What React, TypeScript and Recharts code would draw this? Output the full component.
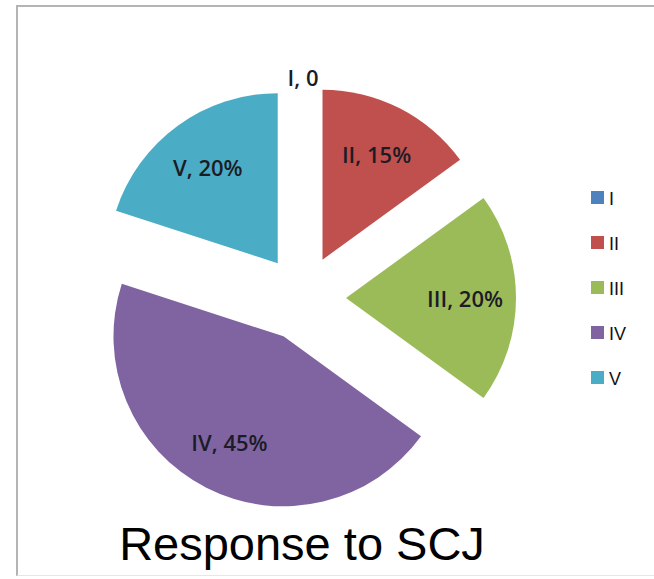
import React from 'react';
import { PieChart, Pie, Cell, Sector, Legend } from 'recharts';

const categories = ['I', 'II', 'III', 'IV', 'V'];
const shares = [0, 15, 20, 45, 20];
const colors = ['#4F81BD', '#C0504D', '#9BBB59', '#8064A2', '#4BACC6'];
const title = 'Response to SCJ';

const data = categories.map((name, i) => ({ name, value: shares[i] }));

const RAD = Math.PI / 180;
const explode = 43;

const ExplodedSlice = (props: any) => {
  const { cx, cy, midAngle } = props;
  const x = cx + explode * Math.cos(-midAngle * RAD);
  const y = cy + explode * Math.sin(-midAngle * RAD);
  return <Sector {...props} cx={x} cy={y} stroke='none' />;
};

const renderLabel = (props: any) => {
  const { cx, cy, midAngle, outerRadius, name, value } = props;
  const ox = cx + explode * Math.cos(-midAngle * RAD);
  const oy = cy + explode * Math.sin(-midAngle * RAD);
  const r = value === 0 ? outerRadius + 8 : outerRadius * 0.7;
  const x = ox + r * Math.cos(-midAngle * RAD);
  const y = oy + r * Math.sin(-midAngle * RAD);
  const text = value === 0 ? `${name}, ${value}` : `${name}, ${value}%`;
  return (
    <text
      x={x}
      y={y}
      textAnchor='middle'
      dominantBaseline='central'
      fill='#1c1c26'
      fontFamily='"Open Sans", sans-serif'
      fontWeight={600}
      fontSize={22}
    >
      {text}
    </text>
  );
};

const renderLegend = (props: any) => {
  const { payload } = props;
  return (
    <svg width={60} height={220}>
      {(payload || []).map((entry: any, i: number) => (
        <g key={entry.value} transform={`translate(0, ${i * 45})`}>
          <rect x={1} y={1} width={13} height={13} fill={entry.color} />
          <text x={19} y={14.5} fontFamily='"Liberation Sans", Arial, sans-serif' fontSize={18} fill='#111'>
            {entry.value}
          </text>
        </g>
      ))}
    </svg>
  );
};

export default function App() {
  return (
    <div style={{ position: 'absolute', left: 0, top: 0, width: 654, height: 579, background: '#fff', overflow: 'hidden' }}>
      <div
        style={{
          position: 'absolute',
          left: 16,
          top: 5,
          width: 700,
          height: 568,
          borderTop: '2px solid #b4b4b4',
          borderLeft: '2px solid #b4b4b4',
          borderBottom: '1px solid #e6e6e6',
        }}
      />
      <div style={{ position: 'absolute', left: 0, top: 0 }}>
        <PieChart width={654} height={579}>
          <Pie
            data={data}
            dataKey='value'
            nameKey='name'
            cx={298}
            cy={293}
            outerRadius={170}
            startAngle={90}
            endAngle={-270}
            shape={ExplodedSlice}
            label={renderLabel}
            labelLine={false}
            isAnimationActive={false}
          >
            {data.map((d, i) => (
              <Cell key={d.name} fill={colors[i]} stroke='none' />
            ))}
          </Pie>
          <Legend
            layout='vertical'
            align='right'
            verticalAlign='top'
            content={renderLegend}
            wrapperStyle={{ left: 590, top: 190, width: 60 }}
          />
        </PieChart>
      </div>
      <svg style={{ position: 'absolute', left: 0, top: 0 }} width={654} height={579} pointerEvents='none'>
        <text x={302} y={560} textAnchor='middle' fontFamily='"Liberation Sans", Arial, sans-serif' fontSize={47} fill='#000'>
          {title}
        </text>
      </svg>
    </div>
  );
}
